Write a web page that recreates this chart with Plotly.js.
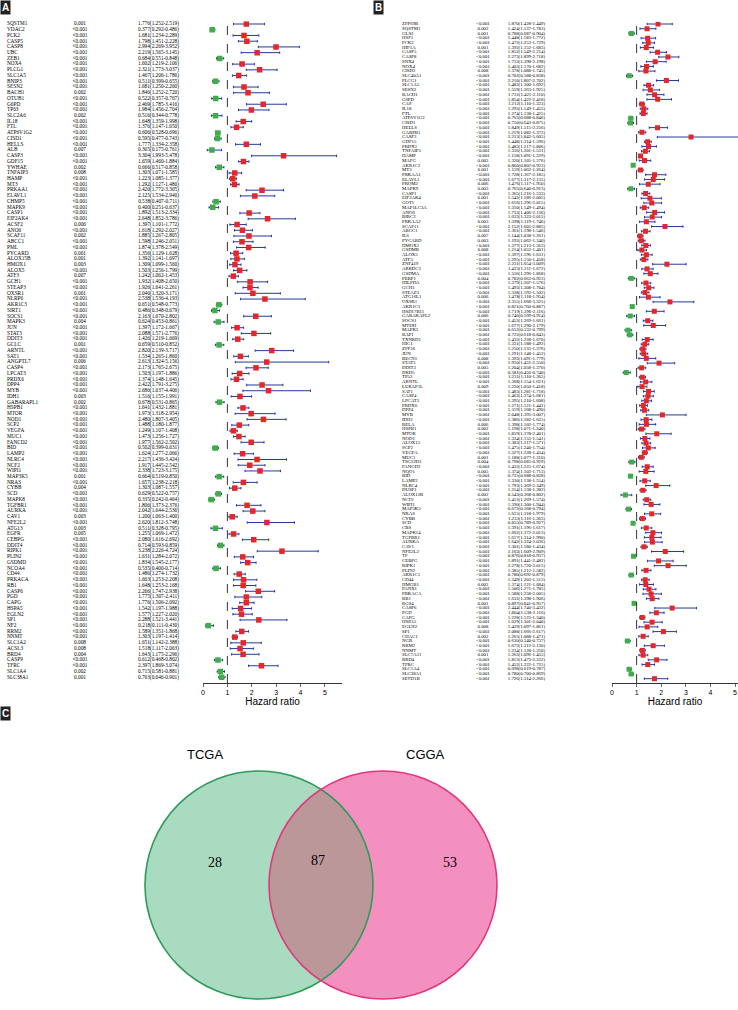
<!DOCTYPE html>
<html><head><meta charset="utf-8">
<script src="https://cdn.plot.ly/plotly-3.0.1.min.js"></script>
<style>html,body{margin:0;padding:0;background:#fff}#chart{width:738px;height:1010px}</style>
</head><body><div id="chart"></div>
<script>
// ---------- Panel A (TCGA) ----------
const genesA = ["SQSTM1","VDAC2","PCK2","CASP5","CASP8","UBC","ZEB1","NOX4","PLCG1","SLC1A5","BNIP3","SESN2","BACH1","OTUB1","G6PD","TP63","SLC2A6","IL18","FTL","ATP6V1G2","CISD1","HELLS","ALB","CASP3","GDF15","YWHAE","TNFAIP3","HAMP","MT3","PRKAA1","ELAVL1","CHMP5","MAPK9","CASP1","EIF2AK4","ACSF2","ANO6","SCAF11","ABCC1","PML","PYCARD","ALOX15B","HMOX1","ALOX5","ATF3","GCH1","STEAP3","OXSR1","NLRP6","AKR1C3","SIRT1","SOCS1","MAPK3","JUN","STAT3","DDIT3","GCLC","ARNTL","SAT1","ANGPTL7","CASP4","LPCAT3","PRDX6","DPP4","MYB","IDH1","GABARAPL1","HSPB1","MTOR","NOD1","SCP2","VEGFA","MUC1","FANCD2","BID","LAMP2","NLRC4","NCF2","WIPI1","MAP3K5","NRAS","CYBB","SCD","MAPK8","TGFBR1","AURKA","CAV1","NFE2L2","ATG13","EGFR","CEBPG","DDIT4","RIPK1","PLIN2","GSDMD","NCOA4","CD44","PRKACA","RB1","CASP6","PGD","CAPG","HSPA5","EGLN2","SP1","NF2","RRM2","NNMT","SLC1A2","ACSL3","BRD4","CASP9","TFRC","SLC1A4","SLC38A1"];
const pA = ["0.001","<0.001","<0.001","<0.001","<0.001","<0.001","<0.001","<0.001","<0.001","<0.001","<0.001","<0.001","0.002","<0.001","<0.001","<0.001","0.002","<0.001","<0.001","<0.001","<0.001","<0.001","0.007","<0.001","<0.001","0.002","0.008","<0.001","<0.001","<0.001","<0.001","<0.001","<0.001","<0.001","<0.001","0.006","<0.001","0.002","<0.001","<0.001","0.001","0.001","0.003","<0.001","0.007","<0.001","<0.001","0.001","<0.001","<0.001","<0.001","<0.001","0.004","<0.001","<0.001","<0.001","0.001","<0.001","<0.001","0.006","<0.001","<0.001","<0.001","<0.001","<0.001","0.003","0.002","<0.001","<0.001","<0.001","<0.001","<0.001","<0.001","<0.001","<0.001","<0.001","<0.001","<0.001","<0.001","0.001","<0.001","0.004","<0.001","<0.001","<0.001","<0.001","0.003","<0.001","0.003","0.005","<0.001","<0.001","<0.001","<0.001","<0.001","<0.001","<0.001","<0.001","<0.001","<0.001","<0.001","<0.001","<0.001","<0.001","<0.001","<0.001","<0.001","<0.001","0.008","0.008","0.004","<0.001","<0.001","0.002","0.001"];
const hrA = [1.776,0.377,1.681,1.798,2.994,2.219,0.684,1.602,2.321,1.467,0.511,1.681,1.846,0.522,2.469,1.984,0.516,1.648,1.376,0.606,0.595,1.777,0.365,3.304,1.659,0.666,1.303,1.223,1.292,2.420,2.125,0.538,0.400,1.892,2.648,1.397,1.618,1.885,1.598,1.874,1.356,1.392,1.309,1.503,1.242,1.932,1.926,2.046,2.538,0.651,0.486,2.163,0.624,1.397,2.088,1.426,0.659,2.820,1.534,2.613,2.173,1.503,1.374,2.422,2.686,1.516,0.678,1.641,1.973,2.480,1.488,1.249,1.473,1.977,0.502,1.624,2.217,1.917,2.338,0.664,1.657,1.303,0.629,0.335,1.806,2.042,1.200,2.620,0.511,1.255,2.080,0.714,3.238,1.631,1.834,0.535,1.486,1.663,1.648,2.266,1.775,1.776,1.542,1.577,2.288,0.218,1.589,1.303,1.651,1.518,1.643,0.612,2.397,0.715,0.763];
const loA = [1.252,0.292,1.234,1.451,2.269,1.565,0.551,1.219,1.773,1.206,0.399,1.250,1.252,0.357,1.785,1.456,0.344,1.359,1.147,0.528,0.477,1.334,0.175,1.993,1.460,0.517,1.071,1.085,1.127,1.772,1.534,0.407,0.251,1.513,1.852,1.101,1.292,1.267,1.246,1.378,1.129,1.141,1.099,1.256,1.062,1.408,1.641,1.320,1.536,0.548,0.348,1.670,0.453,1.172,1.571,1.219,0.510,2.139,1.265,1.324,1.765,1.197,1.148,1.791,1.637,1.155,0.531,1.432,1.318,1.807,1.180,1.107,1.256,1.562,0.399,1.277,1.436,1.445,1.723,0.519,1.238,1.087,0.522,0.242,1.373,1.644,1.063,1.812,0.328,1.069,1.616,0.593,2.226,1.284,1.545,0.400,1.274,1.253,1.253,1.747,1.307,1.506,1.197,1.227,1.521,0.111,1.351,1.197,1.142,1.117,1.175,0.468,1.869,0.581,0.646];
const hiA = [2.519,0.486,2.289,2.228,3.952,3.145,0.848,2.106,3.037,1.786,0.655,2.260,2.720,0.767,3.416,2.704,0.778,1.998,1.650,0.696,0.743,2.358,0.761,5.478,1.884,0.858,1.585,1.377,1.480,3.305,2.940,0.711,0.637,2.334,3.786,1.772,2.027,2.805,2.051,2.549,1.628,1.697,1.560,1.799,1.453,2.650,2.261,3.171,4.193,0.773,0.679,2.802,0.861,1.667,2.776,1.669,0.852,3.717,1.860,5.156,2.675,1.886,1.645,3.275,4.406,1.991,0.865,1.881,2.954,3.405,1.877,1.408,1.727,2.502,0.631,2.066,3.424,2.542,3.175,0.850,2.218,1.557,0.757,0.464,2.376,2.536,1.400,3.748,0.795,1.472,2.692,0.859,4.724,2.072,2.177,0.714,1.732,2.208,2.168,2.938,2.411,2.092,1.988,2.020,3.441,0.430,1.868,1.414,2.388,2.063,2.296,0.802,3.074,0.881,0.901];

// ---------- Panel B (CGGA) ----------
const genesB = ["ZFP69B","SQSTM1","GLS2","HSF1","PCK2","HIF1A","CASP5","CASP8","SNX4","NOX4","CISD2","SLC40A1","PLCG1","SLC1A5","SESN2","BACH1","G6PD","CA9","IL18","FTL","ATP6V1G2","CISD1","HELLS","GABPB1","CASP3","GDF15","PRDX1","TNFAIP3","HAMP","MAFG","AKR1C2","MT3","PRKAA1","ELAVL1","PROM2","MAPK9","CASP1","EIF2AK4","GOT1","MAP1LC3A","ANO6","BIRC2","PRKAA2","SCAF11","ABCC1","IL6","PYCARD","HMOX1","GSDMB","ALOX5","ATF3","ZNF419","ARRDC3","GSDMA","PEBP1","HILPDA","GCH1","STEAP3","ATG16L1","OXSR1","AKR1C3","HSD17B11","GABARAPL2","SOCS1","MTDH","MAPK3","BAP1","TXNRD1","HIC1","ZFP36","JUN","BECN1","STAT3","DDIT3","DRD5","TP53","ARNTL","LURAP1L","SAT1","CASP4","LPCAT3","PRDX6","DPP4","MYB","IDH1","RELA","HSPB1","MTOR","NOD1","ALOX15","SCP2","VEGFA","MUC1","TSC22D3","FANCD2","NQO1","BID","LAMP2","NLRC4","DUSP1","ALOX12B","NCF2","WIPI1","MAP3K5","NRAS","CYBB","SCD","CBS","MAPK14","TGFBR1","AURKA","CAV1","NFE2L2","TF","CEBPG","RIPK1","PLIN2","AKR1C1","CD44","HMGB1","PANX1","PRKACA","RB1","RGS4","CASP6","PGD","CAPG","HSPA5","EGLN2","SP1","CHAC1","NGB","RRM2","NNMT","SLC7A11","BRD4","TFRC","SLC1A4","SLC38A1","SETD1B"];
const pB = ["<0.001","0.002","0.001","<0.001","<0.001","0.001","<0.001","<0.001","<0.001","<0.001","0.008","<0.001","<0.001","<0.001","<0.001","<0.001","<0.001","<0.001","<0.001","<0.001","<0.001","<0.001","<0.001","<0.001","<0.001","<0.001","<0.001","<0.001","<0.001","0.002","<0.001","0.001","<0.001","<0.001","0.006","0.003","<0.001","0.001","<0.001","<0.001","<0.001","<0.001","0.003","<0.001","<0.001","0.007","0.003","<0.001","0.008","<0.001","<0.001","<0.001","<0.001","<0.001","0.004","<0.001","<0.001","<0.001","0.006","<0.001","<0.001","<0.001","0.006","<0.001","<0.001","<0.001","<0.001","<0.001","<0.001","<0.001","<0.001","0.008","<0.001","0.005","<0.001","<0.001","<0.001","0.009","<0.001","<0.001","<0.001","<0.001","<0.001","<0.001","<0.001","0.006","0.002","<0.001","<0.001","<0.001","<0.001","<0.001","0.001","0.004","<0.001","0.005","<0.001","<0.001","<0.001","<0.001","0.002","<0.001","<0.001","<0.001","<0.001","<0.001","<0.001","<0.001","<0.001","<0.001","<0.001","<0.001","<0.001","<0.001","<0.001","<0.001","<0.001","<0.001","<0.001","0.002","<0.001","<0.001","<0.001","0.001","<0.001","<0.001","<0.001","<0.001","0.008","<0.001","0.002","<0.001","<0.001","<0.001","0.001","<0.001","<0.001","<0.001","<0.001","<0.001"];
const hrB = [1.870,1.424,0.788,1.448,1.472,1.392,1.852,2.273,1.753,1.403,1.378,0.702,2.210,1.483,1.559,1.731,1.854,1.212,1.293,1.274,0.763,0.750,1.849,1.219,3.213,1.448,1.483,1.356,1.158,1.320,0.860,1.159,1.728,1.677,1.476,0.765,1.365,1.542,1.616,1.310,1.733,1.633,1.398,2.152,1.361,1.144,1.193,1.377,1.214,1.397,1.295,2.231,1.423,1.556,0.782,1.379,1.493,1.338,1.478,2.355,0.821,1.719,0.740,1.452,1.677,0.652,0.722,1.432,1.331,1.250,1.291,1.393,1.910,1.204,0.581,1.231,1.368,1.220,1.483,1.463,1.395,1.271,1.319,2.048,1.386,1.398,1.198,1.819,1.334,1.383,1.475,1.327,1.188,0.798,1.432,1.374,0.755,1.330,1.793,1.254,0.543,1.413,1.590,0.672,1.615,1.233,0.855,1.391,1.662,1.617,1.642,1.301,2.163,0.876,1.891,2.278,1.385,0.780,1.349,1.374,1.506,1.588,1.632,0.897,2.444,1.804,1.228,1.629,1.429,2.088,1.265,0.630,1.672,1.234,1.263,1.813,1.452,0.698,0.780,1.726];
const loB = [1.428,1.137,0.687,1.183,1.253,1.152,1.549,1.899,1.398,1.170,1.088,0.588,1.807,1.300,1.263,1.421,1.422,1.110,1.149,1.138,0.688,0.643,1.515,1.082,1.842,1.314,1.217,1.201,1.091,1.105,0.802,1.062,1.367,1.317,1.117,0.640,1.216,1.186,1.296,1.149,1.406,1.323,1.119,1.605,1.198,1.038,1.062,1.213,1.052,1.196,1.150,1.654,1.211,1.296,0.663,1.207,1.308,1.192,1.118,1.668,0.760,1.396,0.599,1.269,1.290,0.532,0.618,1.228,1.188,1.135,1.148,1.091,1.431,1.058,0.456,1.110,1.154,1.050,1.281,1.274,1.210,1.121,1.168,1.395,1.182,1.102,1.071,1.378,1.155,1.217,1.240,1.228,1.077,0.685,1.225,1.102,0.688,1.138,1.369,1.138,0.368,1.269,1.300,0.568,1.318,1.116,0.789,1.196,1.372,1.314,1.324,1.180,1.609,0.818,1.441,1.720,1.212,0.692,1.203,1.121,1.271,1.258,1.398,0.841,1.740,1.538,1.125,1.301,1.097,1.666,1.088,0.540,1.312,1.128,1.096,1.473,1.222,0.619,0.700,1.314];
const hiB = [2.449,1.783,0.904,1.772,1.729,1.683,2.214,2.718,2.198,1.682,1.745,0.838,2.702,1.692,1.925,2.110,2.418,1.323,1.455,1.425,0.846,0.875,2.256,1.373,5.605,1.596,1.806,1.531,1.229,1.576,0.923,1.264,2.185,2.135,1.950,0.913,1.533,2.005,2.015,1.494,2.136,2.015,1.746,2.885,1.546,1.261,1.340,1.563,1.401,1.631,1.458,3.009,1.672,1.868,0.923,1.576,1.704,1.502,1.954,3.325,0.887,2.116,0.914,1.661,2.179,0.799,0.843,1.670,1.492,1.376,1.452,1.779,2.550,1.370,0.740,1.365,1.621,1.418,1.718,1.681,1.608,1.441,1.490,3.007,1.625,1.774,1.340,2.401,1.541,1.571,1.754,1.434,1.310,0.929,1.674,1.713,0.828,1.554,2.349,1.382,0.802,1.574,1.944,0.794,1.979,1.363,0.927,1.617,2.013,1.990,2.036,1.434,2.909,0.937,2.482,3.015,1.582,0.879,1.513,1.684,1.785,2.005,1.906,0.957,3.432,2.116,1.340,2.040,1.861,2.617,1.471,0.737,2.130,1.350,1.455,2.232,1.725,0.787,0.869,2.266];

// ---------- Panel C (Venn) ----------
const vennSets = ["TCGA","CGGA"];
const vennCounts = [28, 87, 53]; // TCGA only, shared, CGGA only

const tickVals = [0,1,2,3,4,5];

// ---------- geometry helpers ----------
const W = 738, H = 1010;
const px = x => x / W;
const py = y => 1 - y / H;

const fmt = (h,l,u) => h.map((v,i)=>v.toFixed(3)+"("+l[i].toFixed(3)+"-"+u[i].toFixed(3)+")");
const hrTxtA = fmt(hrA, loA, hiA);
const hrTxtB = fmt(hrB, loB, hiB);

const RED = "#e5262b", GREEN = "#3fae49", BLUE = "#24399b";
const serif = "Liberation Serif, Times New Roman, serif";
const sans = "Liberation Sans, Arial, sans-serif";

function panel(genes, pv, hr, lo, hi, hrTxt, xt, xf, ya, cols, fsz) {
  const idx = genes.map((_,i)=>i);
  const tf = {family: serif, size: fsz, color: "#000"};
  const base = {type:"scatter", mode:"text", xaxis: xt, yaxis: ya, hoverinfo:"skip", showlegend:false, cliponaxis:false};
  return [
    Object.assign({}, base, {x: genes.map(()=>cols.name), y: idx, text: genes, textposition:"middle right", textfont: tf}),
    Object.assign({}, base, {x: genes.map(()=>cols.p), y: idx, text: pv, textposition:"middle center", textfont: tf}),
    Object.assign({}, base, {x: genes.map(()=>cols.hr), y: idx, text: hrTxt, textposition:"middle left", textfont: tf}),
    {type:"scatter", mode:"markers", xaxis: xf, yaxis: ya, hoverinfo:"skip", showlegend:false,
     x: hr, y: idx,
     marker: {symbol:"square", size: cols.msize, color: hr.map(v => v > 1 ? RED : GREEN), line:{width:0}},
     error_x: {type:"data", symmetric:false, array: hi.map((u,i)=>u-hr[i]), arrayminus: lo.map((l,i)=>hr[i]-l),
               color: BLUE, thickness: 1, width: 1.2}}
  ];
}

const A = {top: 24, step: 5.73, axis: 683};
const B = {top: 24, step: 4.71, axis: 683};
const rA = [(A.axis - A.top)/A.step, -0.5];
const rB = [(B.axis - B.top)/B.step, -0.5];
const domA = [py(A.axis), py(A.top - 0.5*A.step)];
const domB = [py(B.axis), py(B.top - 0.5*B.step)];

const traces = [].concat(
  panel(genesA, pA, hrA, loA, hiA, hrTxtA, "x", "x2", "y", {name:7, p:80, hr:179, msize:5.5}, 5.3),
  panel(genesB, pB, hrB, loB, hiB, hrTxtB, "x3", "x4", "y2", {name:402, p:483, hr:545, msize:5}, 4.8)
);

const forestAxis = (dom, rng, anchor) => ({
  domain: dom, range: rng, anchor: anchor, tickvals: tickVals, ticks:"outside", ticklen:3, tickwidth:0.8,
  showline:true, linewidth:0.8, linecolor:"#000", showgrid:false, zeroline:false,
  tickfont:{family:sans, size:7, color:"#000"},
  title:{text:"Hazard ratio", font:{family:sans, size:10, color:"#000"}, standoff:2}
});

// Venn geometry (pixel)
const vc = [{cx:259, cy:885, r:114},{cx:383, cy:885, r:114}];
function circlePts(c, a0, a1, n) {
  const pts = [];
  for (let k=0;k<=n;k++){ const a = a0 + (a1-a0)*k/n; pts.push([c.cx + c.r*Math.cos(a), c.cy + c.r*Math.sin(a)]); }
  return pts;
}
const d = vc[1].cx - vc[0].cx;
const xi = (d*d - vc[1].r*vc[1].r + vc[0].r*vc[0].r)/(2*d);
const hgt = Math.sqrt(vc[0].r*vc[0].r - xi*xi);
const angL = Math.atan2(hgt, xi);
const angR = Math.atan2(hgt, xi - d);
const lensPts = circlePts(vc[0], -angL, angL, 60).concat(circlePts(vc[1], angR, 2*Math.PI - angR, 60));
const lensPath = "M " + lensPts.map(p => px(p[0]).toFixed(5)+","+py(p[1]).toFixed(5)).join(" L ") + " Z";

const circ = (c, fill, line, lw) => ({type:"circle", xref:"paper", yref:"paper",
  x0: px(c.cx - c.r), x1: px(c.cx + c.r), y0: py(c.cy + c.r), y1: py(c.cy - c.r),
  fillcolor: fill, line:{color: line, width: lw}});

const shapes = [
  {type:"line", xref:"x2", yref:"y domain", x0:1, x1:1, y0:0, y1:1, line:{color:"#000", width:0.8, dash:"dash"}},
  {type:"line", xref:"x4", yref:"y2 domain", x0:1, x1:1, y0:0, y1:1, line:{color:"#000", width:0.8, dash:"dash"}},
  circ(vc[0], "#a8dbbf", "rgba(0,0,0,0)", 0),
  circ(vc[1], "#f390bf", "rgba(0,0,0,0)", 0),
  {type:"path", xref:"paper", yref:"paper", path: lensPath, fillcolor:"#bb979a", line:{width:0}},
  circ(vc[0], "rgba(0,0,0,0)", "#2f9a5a", 1.6),
  circ(vc[1], "rgba(0,0,0,0)", "#e0387c", 1.6)
];

const panelLabel = (t, x, y) => ({text:"<b>"+t+"</b>", xref:"paper", yref:"paper", x:px(x), y:py(y), xanchor:"left", yanchor:"top",
  showarrow:false, bgcolor:"#222", font:{family:sans, size:10, color:"#fff"}, borderpad:1});
const hdr = (t, x, xr, yr, anchor, fsz) => ({text:t, x:x, y:-1, xref:xr, yref:yr, xanchor:anchor, yanchor:"middle", showarrow:false,
  font:{family:serif, size:fsz, color:"#000"}});

const annotations = [
  panelLabel("A", 0, 0), panelLabel("B", 373, 0), panelLabel("C", 0, 706),
  hdr("pvalue", 80, "x", "y", "center", 5.3), hdr("Hazard ratio", 178, "x", "y", "right", 5.3),
  hdr("pvalue", 483, "x3", "y2", "center", 4.8), hdr("Hazard ratio", 543, "x3", "y2", "right", 4.8),
  {text: vennSets[0], xref:"paper", yref:"paper", x:px(205), y:py(754), showarrow:false, xanchor:"center", yanchor:"middle", font:{family:sans, size:13, color:"#000"}},
  {text: vennSets[1], xref:"paper", yref:"paper", x:px(425), y:py(754), showarrow:false, xanchor:"center", yanchor:"middle", font:{family:sans, size:13, color:"#000"}},
  {text: String(vennCounts[0]), xref:"paper", yref:"paper", x:px(206), y:py(872), showarrow:false, font:{family:serif, size:14, color:"#000"}},
  {text: String(vennCounts[1]), xref:"paper", yref:"paper", x:px(318), y:py(870), showarrow:false, font:{family:serif, size:14, color:"#000"}},
  {text: String(vennCounts[2]), xref:"paper", yref:"paper", x:px(450), y:py(872), showarrow:false, font:{family:serif, size:14, color:"#000"}}
];

const hidden = (dom, rng, anchor) => ({domain: dom, range: rng, anchor: anchor, visible:false, fixedrange:true});

const layout = {
  width: W, height: H, margin:{l:0, r:0, t:0, b:0},
  paper_bgcolor:"#fff", plot_bgcolor:"rgba(0,0,0,0)", showlegend:false, hovermode:false,
  xaxis: hidden([0, px(200)], [0, 200], "y"),
  xaxis2: forestAxis([px(203), px(342)], [0, 5.7], "y"),
  xaxis3: hidden([px(370), px(600)], [370, 600], "y2"),
  xaxis4: forestAxis([px(612), px(738)], [0, 5.12], "y2"),
  yaxis: hidden(domA, rA, "x"),
  yaxis2: hidden(domB, rB, "x3"),
  shapes: shapes,
  annotations: annotations
};

Plotly.newPlot("chart", traces, layout, {staticPlot:true, displayModeBar:false});
</script>
</body></html>
